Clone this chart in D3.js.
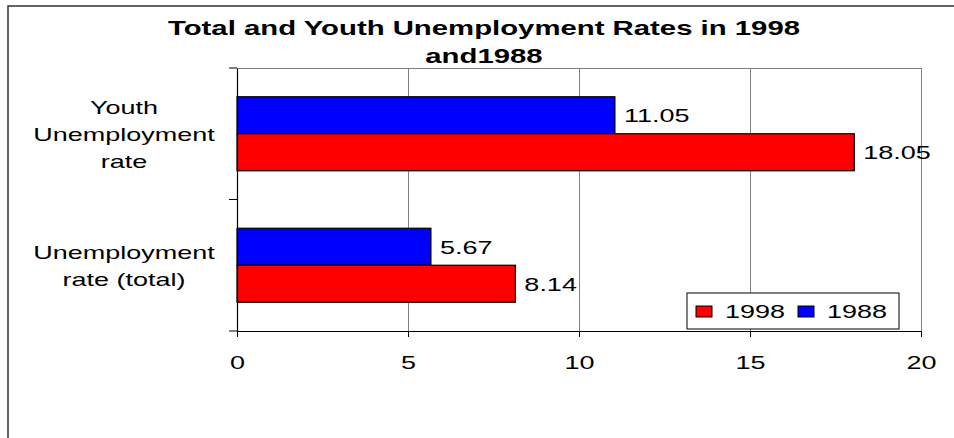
<!DOCTYPE html>
<html>
<head>
<meta charset="utf-8">
<script src="https://cdn.jsdelivr.net/npm/d3@7"></script>
<style>
  html, body { margin: 0; padding: 0; background: #fff; }
  svg { display: block; font-family: "Liberation Sans", Arial, sans-serif; }
</style>
</head>
<body>
<svg id="chart" width="954" height="438"></svg>
<script>
// Chart data
const categoryLines = [["Youth", "Unemployment", "rate"], ["Unemployment", "rate (total)"]];
const categories = ["Youth Unemployment rate", "Unemployment rate (total)"];
const seriesNames = ["1988", "1998"];          // top-to-bottom inside each group
const values1988 = [11.05, 5.67];
const values1998 = [18.05, 8.14];
const legendOrder = ["1998", "1988"];
const xTicks = [0, 5, 10, 15, 20];
const titleLines = ["Total and Youth Unemployment Rates in 1998", "and1988"];

const colors = { "1998": "#ff0000", "1988": "#0000ff" };
const seriesValues = { "1988": values1988, "1998": values1998 };

// Text is drawn horizontally widened, like the spreadsheet export
const STRETCH = 1.42;
function widen(sel, k = STRETCH) {
  sel.each(function () {
    const w = this.getComputedTextLength();
    this.setAttribute("textLength", (w * k).toFixed(2));
    this.setAttribute("lengthAdjust", "spacingAndGlyphs");
  });
}

const svg = d3.select("#chart");
const plot = { left: 237, right: 921, top: 68, bottom: 331 };

// Outer chart frame
svg.append("rect")
  .attr("x", 8).attr("y", 6).attr("width", 960).attr("height", 460)
  .attr("fill", "#fff").attr("stroke", "#333").attr("stroke-width", 1.5);

const x = d3.scaleLinear().domain([0, 20]).range([plot.left, plot.right]);
const y = d3.scaleBand().domain(categories).range([plot.top, plot.bottom]).padding(0);
const ySub = d3.scaleBand().domain(seriesNames).range([0, y.bandwidth()])
  .paddingInner(0).paddingOuter(0.777);

// Plot frame: grey top border and vertical gridlines
svg.append("line")
  .attr("x1", plot.left).attr("x2", plot.right)
  .attr("y1", plot.top + 0.5).attr("y2", plot.top + 0.5)
  .attr("stroke", "#808080").attr("stroke-width", 1);

svg.append("g").selectAll("line")
  .data(xTicks.filter(t => t > 0))
  .join("line")
  .attr("x1", d => Math.round(x(d)) + 0.5).attr("x2", d => Math.round(x(d)) + 0.5)
  .attr("y1", plot.top).attr("y2", plot.bottom)
  .attr("stroke", "#808080").attr("stroke-width", 1);

// Bars
const groups = svg.append("g").selectAll("g")
  .data(categories)
  .join("g")
  .attr("transform", d => `translate(0,${y(d)})`);

groups.selectAll("rect")
  .data((c, i) => seriesNames.map(s => ({ s, v: seriesValues[s][i] })))
  .join("rect")
  .attr("x", x(0))
  .attr("y", d => ySub(d.s))
  .attr("width", d => x(d.v) - x(0))
  .attr("height", ySub.bandwidth())
  .attr("fill", d => colors[d.s])
  .attr("stroke", "#000").attr("stroke-width", 1.2);

// Value labels
groups.selectAll("text.val")
  .data((c, i) => seriesNames.map(s => ({ s, v: seriesValues[s][i] })))
  .join("text")
  .attr("class", "val")
  .attr("x", d => x(d.v) + 9)
  .attr("y", d => ySub(d.s) + ySub.bandwidth() / 2)
  .attr("dy", "0.36em")
  .attr("font-size", 19)
  .text(d => d.v.toFixed(2))
  .call(widen);

// Y axis (category axis)
const yAxis = svg.append("g").attr("transform", `translate(${plot.left},0)`)
  .call(d3.axisLeft(y).tickValues([]).tickSizeOuter(0));
yAxis.select(".domain").attr("stroke", "#000").attr("stroke-width", 1.2);
// tick marks at the group boundaries
svg.append("g").selectAll("line")
  .data(categories.map(c => y(c)).concat([plot.bottom]))
  .join("line")
  .attr("x1", plot.left - 8).attr("x2", plot.left)
  .attr("y1", d => d).attr("y2", d => d)
  .attr("stroke", "#000").attr("stroke-width", 1);

// Category labels, multi-line
const lineH = 27;
svg.append("g").selectAll("text")
  .data(categories)
  .join("text")
  .attr("font-size", 19)
  .attr("text-anchor", "middle")
  .each(function (c, i) {
    const lines = categoryLines[i];
    const cy = y(c) + y.bandwidth() / 2;
    const first = cy - (lines.length - 1) * lineH / 2;
    d3.select(this).selectAll("tspan")
      .data(lines)
      .join("tspan")
      .attr("x", 124)
      .attr("y", (d, k) => first + k * lineH)
      .attr("dy", "0.36em")
      .text(d => d);
  });
svg.selectAll("tspan").each(function () {
  const w = this.getComputedTextLength();
  this.setAttribute("textLength", (w * STRETCH).toFixed(2));
  this.setAttribute("lengthAdjust", "spacingAndGlyphs");
});

// X axis
const xAxis = svg.append("g").attr("transform", `translate(0,${plot.bottom})`)
  .call(d3.axisBottom(x).tickValues(xTicks).tickSize(6).tickSizeOuter(0).tickPadding(19));
xAxis.select(".domain").attr("stroke", "#000").attr("stroke-width", 1.2);
xAxis.selectAll(".tick line").attr("stroke", "#000");
xAxis.selectAll(".tick text")
  .attr("font-size", 19).attr("fill", "#000")
  .attr("font-family", "Liberation Sans, Arial, sans-serif")
  .call(widen);

// Title
svg.append("g").selectAll("text")
  .data(titleLines)
  .join("text")
  .attr("x", 484)
  .attr("y", (d, i) => 35 + i * 28)
  .attr("text-anchor", "middle")
  .attr("font-size", 20.5)
  .attr("font-weight", "bold")
  .text(d => d)
  .call(widen, 1.43);

// Legend
const legend = svg.append("g").attr("transform", "translate(687,293)");
legend.append("rect")
  .attr("width", 212).attr("height", 36)
  .attr("fill", "#fff").attr("stroke", "#000").attr("stroke-width", 1);
const items = legend.selectAll("g.item")
  .data(legendOrder)
  .join("g")
  .attr("class", "item")
  .attr("transform", (d, i) => `translate(${9 + i * 102},0)`);
items.append("rect")
  .attr("y", 13).attr("width", 16).attr("height", 11)
  .attr("fill", d => colors[d]).attr("stroke", "#000").attr("stroke-width", 1);
items.append("text")
  .attr("x", 29).attr("y", 25)
  .attr("font-size", 19)
  .text(d => d)
  .call(widen);
</script>
</body>
</html>
